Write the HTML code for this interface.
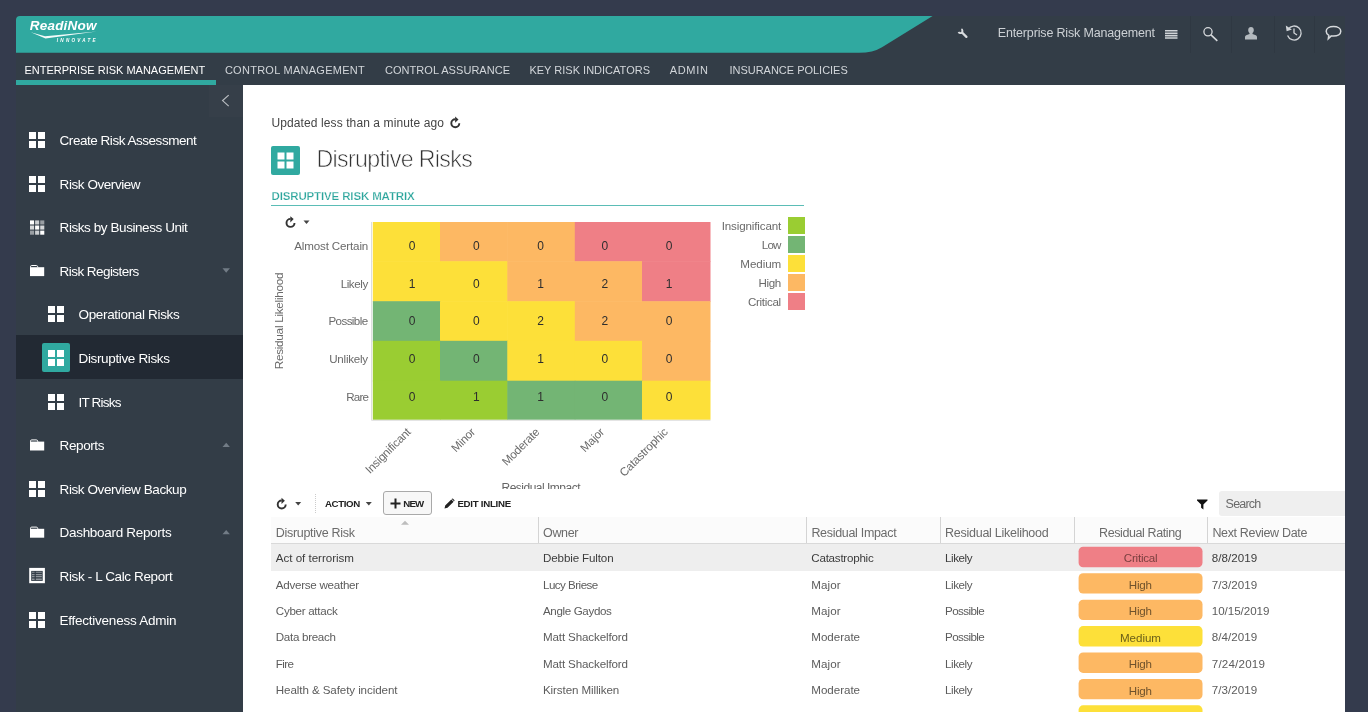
<!DOCTYPE html>
<html lang="en"><head><meta charset="utf-8"><title>Disruptive Risks - ReadiNow</title>
<style>
html,body{margin:0;padding:0}
body{width:1368px;height:712px;overflow:hidden;background:#343b4d;font-family:"Liberation Sans", sans-serif;position:relative}
.abs,.ic,.t{position:absolute}
.t{white-space:nowrap;display:block}
.ic{display:block;overflow:visible}
#app{left:16px;top:16px;width:1329px;height:696px;background:#333d47;border-top-left-radius:4px;overflow:hidden}
#content{left:243px;top:85px;width:1102px;height:627px;background:#fff}
</style></head><body>
<div id="app" class="abs"></div>
<header><svg class="ic" style="left:16px;top:16px" width="920" height="37" viewBox="0 0 920 37"><path fill="#30a9a0" d="M4 0H916.600L866 31.200Q857 36.800 843 36.800H0V4Q0 0 4 0z"/></svg><span class="t" style="top:17.6px;font-size:13.5px;line-height:16px;color:#fff;font-weight:700;letter-spacing:0.23px;left:29.7px;font-style:italic">ReadiNow</span><svg class="ic" style="left:30px;top:31px" width="68" height="8" viewBox="0 0 68 8"><path fill="#fff" opacity=".95" d="M.8 1.200L15 5.300L66.500.6L15.500 7.500z"/></svg><span class="t" style="top:37.5px;font-size:4.6px;line-height:6px;color:#fff;font-weight:700;letter-spacing:2.26px;left:56.8px;font-style:italic">INNOVATE</span><svg class="ic" style="left:957px;top:28px" width="12" height="12" viewBox="0 0 12 12"><path fill="none" stroke="#d9dcdf" stroke-width="1.900" d="M4.400 1.200A2.100 2.100 0 1 1 1.500 4"/><path fill="none" stroke="#d9dcdf" stroke-width="2.300" stroke-linecap="round" d="M5.300 4.800L9.400 8.900"/></svg><span class="t" style="top:26.4px;font-size:12.5px;line-height:15px;color:#cdd1d5;letter-spacing:-0.16px;left:997.8px;">Enterprise Risk Management</span><svg class="ic" style="left:1165px;top:30px" width="13" height="9" viewBox="0 0 13 9"><path fill="#d0d4d8" d="M0 0h12.500v1.600H0zM0 2.400h12.500v1.600H0zM0 4.800h12.500v1.600H0zM0 7.200h12.500v1.600H0z"/></svg><div class="abs" style="left:1190px;top:16px;width:1px;height:37px;background:#2f3842"></div><div class="abs" style="left:1231px;top:16px;width:1px;height:37px;background:#2f3842"></div><div class="abs" style="left:1273.5px;top:16px;width:1px;height:37px;background:#2f3842"></div><div class="abs" style="left:1313.5px;top:16px;width:1px;height:37px;background:#2f3842"></div><svg class="ic" style="left:1200px;top:24px" width="22" height="20" viewBox="0 0 22 20"><circle cx="8" cy="7.800" r="4.100" fill="none" stroke="#d6d9dc" stroke-width="1.300"/><path d="M11 10.800L17.300 16.800" stroke="#d6d9dc" stroke-width="1.600" fill="none"/></svg><svg class="ic" style="left:1245px;top:27px" width="12" height="13" viewBox="0 0 12 13"><path fill="#b3b9be" d="M6 0c1.700 0 2.800 1.300 2.800 3 0 1.200-.5 2.400-1.300 3.100v.9l3.300 1.200c.8.300 1.200.9 1.200 1.700V12.500H0V9.900c0-.8.400-1.400 1.200-1.700l3.300-1.200v-.9C3.700 5.400 3.200 4.200 3.200 3 3.200 1.300 4.300 0 6 0z"/></svg><svg class="ic" style="left:1284px;top:23px" width="20" height="20" viewBox="0 0 20 20"><path fill="none" stroke="#d0d4d8" stroke-width="1.300" d="M4.200 6.300A7 7 0 1 1 3.600 12.500"/><path fill="#d0d4d8" d="M1.800 2.600L2.600 8.200L7.900 6.500z"/><path fill="none" stroke="#d0d4d8" stroke-width="1.300" d="M10 5.500V10l3 2"/></svg><svg class="ic" style="left:1324px;top:24px" width="20" height="18" viewBox="0 0 20 18"><path fill="none" stroke="#d6d9dc" stroke-width="1.500" d="M9.500 2.500c4.200 0 7.300 2 7.300 4.800s-3.100 4.800-7.300 4.800c-.8 0-1.500-.1-2.200-.2L4.300 14.800l.5-3.500C3.200 10.400 2.200 9 2.200 7.300c0-2.800 3.100-4.800 7.300-4.800z"/></svg></header><nav><span class="t" style="top:63.6px;font-size:11px;line-height:13px;color:#fff;letter-spacing:-0.01px;left:24.5px;">ENTERPRISE RISK MANAGEMENT</span><span class="t" style="top:63.6px;font-size:11px;line-height:13px;color:#d2d6da;letter-spacing:0.27px;left:224.9px;">CONTROL MANAGEMENT</span><span class="t" style="top:63.6px;font-size:11px;line-height:13px;color:#d2d6da;letter-spacing:0.05px;left:385px;">CONTROL ASSURANCE</span><span class="t" style="top:63.6px;font-size:11px;line-height:13px;color:#d2d6da;letter-spacing:0.01px;left:529.4px;">KEY RISK INDICATORS</span><span class="t" style="top:63.6px;font-size:11px;line-height:13px;color:#d2d6da;letter-spacing:0.70px;left:669.7px;">ADMIN</span><span class="t" style="top:63.6px;font-size:11px;line-height:13px;color:#d2d6da;letter-spacing:-0.02px;left:729.5px;">INSURANCE POLICIES</span><div class="abs" style="left:16px;top:80px;width:199.500px;height:5px;background:#30a9a0"></div></nav><aside><div class="abs" style="left:208.500px;top:85px;width:34.500px;height:32px;background:#363f49"></div><svg class="ic" style="left:221px;top:94px" width="8" height="14" viewBox="0 0 8 14"><path fill="none" stroke="#b9bdc1" stroke-width="1.200" d="M7.700 1.100L1.600 6.600L7.700 12.100"/></svg><div class="abs" style="left:16px;top:335px;width:227px;height:43.500px;background:#222933"></div><div class="abs" style="left:41.500px;top:343.200px;width:28.500px;height:28.500px;background:#30a9a0;border-radius:2px"></div><svg class="ic" style="left:29px;top:132px" width="16" height="16" viewBox="0 0 16 16"><path fill="#fff" d="M0 0h7.0v7.0h-7.0zM9.0 0h7.0v7.0h-7.0zM0 9.0h7.0v7.0h-7.0zM9.0 9.0h7.0v7.0h-7.0z"/></svg><span class="t" style="top:132.9px;font-size:13.5px;line-height:16px;color:#fff;letter-spacing:-0.47px;left:59.6px;">Create Risk Assessment</span><svg class="ic" style="left:29px;top:176px" width="16" height="16" viewBox="0 0 16 16"><path fill="#fff" d="M0 0h7.0v7.0h-7.0zM9.0 0h7.0v7.0h-7.0zM0 9.0h7.0v7.0h-7.0zM9.0 9.0h7.0v7.0h-7.0z"/></svg><span class="t" style="top:176.5px;font-size:13.5px;line-height:16px;color:#fff;letter-spacing:-0.44px;left:59.6px;">Risk Overview</span><svg class="ic" style="left:30px;top:220px" width="15" height="15" viewBox="0 -0.392 14.685 14.685"><rect x="0" y="0" width="4" height="4" fill="#fff" opacity="1"/><rect x="5" y="0" width="4" height="4" fill="#fff" opacity="0.75"/><rect x="10" y="0" width="4" height="4" fill="#fff" opacity="0.5"/><rect x="0" y="5" width="4" height="4" fill="#fff" opacity="0.8"/><rect x="5" y="5" width="4" height="4" fill="#fff" opacity="1"/><rect x="10" y="5" width="4" height="4" fill="#fff" opacity="0.8"/><rect x="0" y="10" width="4" height="4" fill="#fff" opacity="0.5"/><rect x="5" y="10" width="4" height="4" fill="#fff" opacity="0.75"/><rect x="10" y="10" width="4" height="4" fill="#fff" opacity="1"/></svg><span class="t" style="top:220.1px;font-size:13.5px;line-height:16px;color:#fff;letter-spacing:-0.43px;left:59.6px;">Risks by Business Unit</span><svg class="ic" style="left:30px;top:265px" width="15" height="12" viewBox="0 0 15 12"><path fill="#fff" d="M0 2.200h14.200v8.900H0z"/><path fill="none" stroke="#fff" stroke-width="1" d="M.5 2.500V1.700Q.5.500 1.700.5H6.300Q7.500.5 7.700 1.700L7.900 2.500"/></svg><svg class="ic" style="left:222px;top:268px" width="8" height="5" viewBox="-0.5 -0.3 8 5"><path fill="#727c86" d="M0 0h7.4L3.7 4.4z"/></svg><span class="t" style="top:263.7px;font-size:13.5px;line-height:16px;color:#fff;letter-spacing:-0.56px;left:59.6px;">Risk Registers</span><svg class="ic" style="left:48px;top:306px" width="16" height="16" viewBox="0 0 16 16"><path fill="#fff" d="M0 0h7.0v7.0h-7.0zM9.0 0h7.0v7.0h-7.0zM0 9.0h7.0v7.0h-7.0zM9.0 9.0h7.0v7.0h-7.0z"/></svg><span class="t" style="top:307.3px;font-size:13.5px;line-height:16px;color:#fff;letter-spacing:-0.33px;left:78.5px;">Operational Risks</span><svg class="ic" style="left:48px;top:350px" width="16" height="16" viewBox="0 0 16 16"><path fill="#fff" d="M0 0h7.0v7.0h-7.0zM9.0 0h7.0v7.0h-7.0zM0 9.0h7.0v7.0h-7.0zM9.0 9.0h7.0v7.0h-7.0z"/></svg><span class="t" style="top:350.9px;font-size:13.5px;line-height:16px;color:#fff;letter-spacing:-0.35px;left:78.5px;">Disruptive Risks</span><svg class="ic" style="left:48px;top:394px" width="16" height="16" viewBox="0 0 16 16"><path fill="#fff" d="M0 0h7.0v7.0h-7.0zM9.0 0h7.0v7.0h-7.0zM0 9.0h7.0v7.0h-7.0zM9.0 9.0h7.0v7.0h-7.0z"/></svg><span class="t" style="top:394.5px;font-size:13.5px;line-height:16px;color:#fff;letter-spacing:-0.80px;left:78.5px;">IT Risks</span><svg class="ic" style="left:30px;top:439px" width="15" height="12" viewBox="0 -0.4 15 12"><path fill="#fff" d="M0 2.200h14.200v8.900H0z"/><path fill="none" stroke="#fff" stroke-width="1" d="M.5 2.500V1.700Q.5.500 1.700.5H6.300Q7.500.5 7.700 1.700L7.900 2.500"/></svg><svg class="ic" style="left:222px;top:442px" width="8" height="6" viewBox="-0.5 -0.7 8 6"><path fill="#727c86" d="M0 4.4L3.7 0L7.4 4.4z"/></svg><span class="t" style="top:438.1px;font-size:13.5px;line-height:16px;color:#fff;letter-spacing:-0.40px;left:59.6px;">Reports</span><svg class="ic" style="left:29px;top:481px" width="16" height="16" viewBox="0 0 16 16"><path fill="#fff" d="M0 0h7.0v7.0h-7.0zM9.0 0h7.0v7.0h-7.0zM0 9.0h7.0v7.0h-7.0zM9.0 9.0h7.0v7.0h-7.0z"/></svg><span class="t" style="top:481.7px;font-size:13.5px;line-height:16px;color:#fff;letter-spacing:-0.42px;left:59.6px;">Risk Overview Backup</span><svg class="ic" style="left:30px;top:526px" width="15" height="12" viewBox="0 -0.6 15 12"><path fill="#fff" d="M0 2.200h14.200v8.900H0z"/><path fill="none" stroke="#fff" stroke-width="1" d="M.5 2.500V1.700Q.5.500 1.700.5H6.300Q7.500.5 7.700 1.700L7.900 2.500"/></svg><svg class="ic" style="left:222px;top:529px" width="8" height="6" viewBox="-0.5 -0.9 8 6"><path fill="#727c86" d="M0 4.4L3.7 0L7.4 4.4z"/></svg><span class="t" style="top:525.3px;font-size:13.5px;line-height:16px;color:#fff;letter-spacing:-0.31px;left:59.6px;">Dashboard Reports</span><svg class="ic" style="left:29px;top:567px" width="16" height="17" viewBox="-0.2 -0.9 16 17"><path fill="#fff" d="M0 0h15.700v15.300H0z"/><path fill="#333d47" d="M2 3h11.500v10H2z"/><path fill="#fff" opacity=".45" d="M2.800 3.9h2.600v1h-2.600zM6.600 3.9h6v1h-6z"/><path fill="#fff" opacity=".45" d="M2.800 6h2.600v1.4h-2.600zM6.600 6h6v1.4h-6z"/><path fill="#fff" opacity=".45" d="M2.800 8h2.600v1.4h-2.600zM6.600 8h6v1.4h-6z"/><path fill="#fff" opacity=".45" d="M2.800 10.6h2.600v1.4h-2.600zM6.600 10.6h6v1.4h-6z"/></svg><span class="t" style="top:568.9px;font-size:13.5px;line-height:16px;color:#fff;letter-spacing:-0.38px;left:59.6px;">Risk - L Calc Report</span><svg class="ic" style="left:29px;top:612px" width="16" height="16" viewBox="0 0 16 16"><path fill="#fff" d="M0 0h7.0v7.0h-7.0zM9.0 0h7.0v7.0h-7.0zM0 9.0h7.0v7.0h-7.0zM9.0 9.0h7.0v7.0h-7.0z"/></svg><span class="t" style="top:612.5px;font-size:13.5px;line-height:16px;color:#fff;letter-spacing:-0.25px;left:59.6px;">Effectiveness Admin</span></aside><main><div id="content" class="abs"></div><span class="t" style="top:116.3px;font-size:12px;line-height:14px;color:#444;letter-spacing:0.10px;left:271.5px;">Updated less than a minute ago</span><svg class="ic" style="left:450px;top:116px" width="11" height="13" viewBox="0 -0.2 11 13"><path fill="none" stroke="#333" stroke-width="1.900" d="M5.300 3.100A4 4 0 1 0 9.300 7.100"/><path fill="#333" d="M5.100 .4L8.500 3.300L5.100 6.600z"/></svg><div class="abs" style="left:271px;top:146px;width:29px;height:29px;background:#30a9a0;border-radius:2px"></div><svg class="ic" style="left:277px;top:152px" width="17" height="17" viewBox="-0.5 -0.5 17 17"><path fill="#fff" d="M0 0h7.0v7.0h-7.0zM9.0 0h7.0v7.0h-7.0zM0 9.0h7.0v7.0h-7.0zM9.0 9.0h7.0v7.0h-7.0z"/></svg><h1 class="t" style="top:144.7px;font-size:23.2px;line-height:28px;color:#333;font-weight:400;margin:0;letter-spacing:-0.66px;left:316.5px;-webkit-text-stroke:0.65px #fff;">Disruptive Risks</h1><h2 class="t" style="top:188.9px;font-size:11.5px;line-height:14px;color:#2ba59c;font-weight:700;margin:0;letter-spacing:-0.14px;left:271.5px;-webkit-text-stroke:0.25px #fff;">DISRUPTIVE RISK MATRIX</h2><div class="abs" style="left:271px;top:204.500px;width:533px;height:1px;background:#5bbdb6"></div><svg class="ic" style="left:285px;top:215px" width="12" height="13" viewBox="-0.2 -0.8 12 13"><path fill="none" stroke="#333" stroke-width="1.900" d="M5.300 3.100A4 4 0 1 0 9.300 7.100"/><path fill="#333" d="M5.100 .4L8.500 3.300L5.100 6.600z"/></svg><svg class="ic" style="left:303px;top:220px" width="7" height="4" viewBox="-0.5 -0.5 7 4"><path fill="#444" d="M0 0h6L3.0 3.5z"/></svg><svg class="ic" style="left:368px;top:220px" width="346" height="204" viewBox="368 220 346 204"><rect x="372.8" y="222" width="67.8" height="39.8" fill="#fde039"/><rect x="440" y="222" width="67.9" height="39.8" fill="#fdb863"/><rect x="507.3" y="222" width="68.1" height="39.8" fill="#fdb863"/><rect x="574.8" y="222" width="67.8" height="39.8" fill="#ef7f86"/><rect x="642" y="222" width="68.5" height="39.8" fill="#ef7f86"/><rect x="372.8" y="261.2" width="67.8" height="40.6" fill="#fde039"/><rect x="440" y="261.2" width="67.9" height="40.6" fill="#fde039"/><rect x="507.3" y="261.2" width="68.1" height="40.6" fill="#fdb863"/><rect x="574.8" y="261.2" width="67.8" height="40.6" fill="#fdb863"/><rect x="642" y="261.2" width="68.5" height="40.6" fill="#ef7f86"/><rect x="372.8" y="301.2" width="67.8" height="40.2" fill="#73b574"/><rect x="440" y="301.2" width="67.9" height="40.2" fill="#fde039"/><rect x="507.3" y="301.2" width="68.1" height="40.2" fill="#fde039"/><rect x="574.8" y="301.2" width="67.8" height="40.2" fill="#fdb863"/><rect x="642" y="301.2" width="68.5" height="40.2" fill="#fdb863"/><rect x="372.8" y="340.8" width="67.8" height="40.5" fill="#9acd32"/><rect x="440" y="340.8" width="67.9" height="40.5" fill="#73b574"/><rect x="507.3" y="340.8" width="68.1" height="40.5" fill="#fde039"/><rect x="574.8" y="340.8" width="67.8" height="40.5" fill="#fde039"/><rect x="642" y="340.8" width="68.5" height="40.5" fill="#fdb863"/><rect x="372.8" y="380.7" width="67.8" height="39.1" fill="#9acd32"/><rect x="440" y="380.7" width="67.9" height="39.1" fill="#9acd32"/><rect x="507.3" y="380.7" width="68.1" height="39.1" fill="#73b574"/><rect x="574.8" y="380.7" width="67.8" height="39.1" fill="#73b574"/><rect x="642" y="380.7" width="68.5" height="39.1" fill="#fde039"/><path d="M371.500 222V420.300H710.500" fill="none" stroke="#dedede" stroke-width="1"/></svg><span class="t" style="top:238.7px;font-size:11.6px;line-height:14px;color:#6a6a6a;letter-spacing:-0.16px;left:294.3px;">Almost Certain</span><span class="t" style="top:238.7px;font-size:12px;line-height:14px;color:#2e2e2e;left:362.0px;width:100px;text-align:center;">0</span><span class="t" style="top:238.7px;font-size:12px;line-height:14px;color:#2e2e2e;left:426.25px;width:100px;text-align:center;">0</span><span class="t" style="top:238.7px;font-size:12px;line-height:14px;color:#2e2e2e;left:490.5px;width:100px;text-align:center;">0</span><span class="t" style="top:238.7px;font-size:12px;line-height:14px;color:#2e2e2e;left:554.75px;width:100px;text-align:center;">0</span><span class="t" style="top:238.7px;font-size:12px;line-height:14px;color:#2e2e2e;left:619.0px;width:100px;text-align:center;">0</span><span class="t" style="top:276.5px;font-size:11.6px;line-height:14px;color:#6a6a6a;letter-spacing:-0.43px;left:340.7px;">Likely</span><span class="t" style="top:276.5px;font-size:12px;line-height:14px;color:#2e2e2e;left:362.0px;width:100px;text-align:center;">1</span><span class="t" style="top:276.5px;font-size:12px;line-height:14px;color:#2e2e2e;left:426.25px;width:100px;text-align:center;">0</span><span class="t" style="top:276.5px;font-size:12px;line-height:14px;color:#2e2e2e;left:490.5px;width:100px;text-align:center;">1</span><span class="t" style="top:276.5px;font-size:12px;line-height:14px;color:#2e2e2e;left:554.75px;width:100px;text-align:center;">2</span><span class="t" style="top:276.5px;font-size:12px;line-height:14px;color:#2e2e2e;left:619.0px;width:100px;text-align:center;">1</span><span class="t" style="top:314.2px;font-size:11.6px;line-height:14px;color:#6a6a6a;letter-spacing:-0.58px;left:328.4px;">Possible</span><span class="t" style="top:314.2px;font-size:12px;line-height:14px;color:#2e2e2e;left:362.0px;width:100px;text-align:center;">0</span><span class="t" style="top:314.2px;font-size:12px;line-height:14px;color:#2e2e2e;left:426.25px;width:100px;text-align:center;">0</span><span class="t" style="top:314.2px;font-size:12px;line-height:14px;color:#2e2e2e;left:490.5px;width:100px;text-align:center;">2</span><span class="t" style="top:314.2px;font-size:12px;line-height:14px;color:#2e2e2e;left:554.75px;width:100px;text-align:center;">2</span><span class="t" style="top:314.2px;font-size:12px;line-height:14px;color:#2e2e2e;left:619.0px;width:100px;text-align:center;">0</span><span class="t" style="top:352.0px;font-size:11.6px;line-height:14px;color:#6a6a6a;letter-spacing:-0.23px;left:329.2px;">Unlikely</span><span class="t" style="top:352.0px;font-size:12px;line-height:14px;color:#2e2e2e;left:362.0px;width:100px;text-align:center;">0</span><span class="t" style="top:352.0px;font-size:12px;line-height:14px;color:#2e2e2e;left:426.25px;width:100px;text-align:center;">0</span><span class="t" style="top:352.0px;font-size:12px;line-height:14px;color:#2e2e2e;left:490.5px;width:100px;text-align:center;">1</span><span class="t" style="top:352.0px;font-size:12px;line-height:14px;color:#2e2e2e;left:554.75px;width:100px;text-align:center;">0</span><span class="t" style="top:352.0px;font-size:12px;line-height:14px;color:#2e2e2e;left:619.0px;width:100px;text-align:center;">0</span><span class="t" style="top:389.7px;font-size:11.6px;line-height:14px;color:#6a6a6a;letter-spacing:-0.80px;left:346.2px;">Rare</span><span class="t" style="top:389.7px;font-size:12px;line-height:14px;color:#2e2e2e;left:362.0px;width:100px;text-align:center;">0</span><span class="t" style="top:389.7px;font-size:12px;line-height:14px;color:#2e2e2e;left:426.25px;width:100px;text-align:center;">1</span><span class="t" style="top:389.7px;font-size:12px;line-height:14px;color:#2e2e2e;left:490.5px;width:100px;text-align:center;">1</span><span class="t" style="top:389.7px;font-size:12px;line-height:14px;color:#2e2e2e;left:554.75px;width:100px;text-align:center;">0</span><span class="t" style="top:389.7px;font-size:12px;line-height:14px;color:#2e2e2e;left:619.0px;width:100px;text-align:center;">0</span><div class="abs" style="left:278.500px;top:321px;width:0;height:0"><div class="t" style="transform:translate(-50%,-50%) rotate(-90deg);font-size:11.800px;color:#6a6a6a;line-height:14px;letter-spacing:-0.3px">Residual Likelihood</div></div><div class="abs" style="left:408.4px;top:430.2px;width:0;height:0"><div class="t" style="right:0;top:-7px;transform-origin:100% 50%;transform:rotate(-45deg);font-size:11.6px;color:#6a6a6a;line-height:14px;letter-spacing:-0.2px">Insignificant</div></div><div class="abs" style="left:472.79999999999995px;top:430.2px;width:0;height:0"><div class="t" style="right:0;top:-7px;transform-origin:100% 50%;transform:rotate(-45deg);font-size:11.6px;color:#6a6a6a;line-height:14px;letter-spacing:-0.2px">Minor</div></div><div class="abs" style="left:537.2px;top:430.2px;width:0;height:0"><div class="t" style="right:0;top:-7px;transform-origin:100% 50%;transform:rotate(-45deg);font-size:11.6px;color:#6a6a6a;line-height:14px;letter-spacing:-0.2px">Moderate</div></div><div class="abs" style="left:601.6px;top:430.2px;width:0;height:0"><div class="t" style="right:0;top:-7px;transform-origin:100% 50%;transform:rotate(-45deg);font-size:11.6px;color:#6a6a6a;line-height:14px;letter-spacing:-0.2px">Major</div></div><div class="abs" style="left:666.0px;top:430.2px;width:0;height:0"><div class="t" style="right:0;top:-7px;transform-origin:100% 50%;transform:rotate(-45deg);font-size:11.6px;color:#6a6a6a;line-height:14px;letter-spacing:-0.2px">Catastrophic</div></div><div class="abs" style="left:480px;top:470px;width:130px;height:19px;overflow:hidden"><div class="t" style="left:21.500px;top:11px;font-size:12px;line-height:14px;color:#666;letter-spacing:-0.5px">Residual Impact</div></div><div class="abs" style="left:787.500px;top:217px;width:17px;height:17px;background:#9acd32"></div><span class="t" style="top:218.9px;font-size:11.6px;line-height:14px;color:#6a6a6a;letter-spacing:-0.14px;left:721.7px;">Insignificant</span><div class="abs" style="left:787.500px;top:236px;width:17px;height:17px;background:#73b574"></div><span class="t" style="top:237.9px;font-size:11.6px;line-height:14px;color:#6a6a6a;letter-spacing:-0.80px;left:761.8px;">Low</span><div class="abs" style="left:787.500px;top:255px;width:17px;height:17px;background:#fde039"></div><span class="t" style="top:256.9px;font-size:11.6px;line-height:14px;color:#6a6a6a;letter-spacing:-0.07px;left:740.3px;">Medium</span><div class="abs" style="left:787.500px;top:274px;width:17px;height:17px;background:#fdb863"></div><span class="t" style="top:275.9px;font-size:11.6px;line-height:14px;color:#6a6a6a;letter-spacing:-0.39px;left:758.5px;">High</span><div class="abs" style="left:787.500px;top:293px;width:17px;height:17px;background:#ef7f86"></div><span class="t" style="top:294.9px;font-size:11.6px;line-height:14px;color:#6a6a6a;letter-spacing:-0.31px;left:747.9px;">Critical</span><svg class="ic" style="left:276px;top:497px" width="12" height="13" viewBox="-0.4 -0.4 12 13"><path fill="none" stroke="#333" stroke-width="1.900" d="M5.300 3.100A4 4 0 1 0 9.300 7.100"/><path fill="#333" d="M5.100 .4L8.500 3.300L5.100 6.600z"/></svg><svg class="ic" style="left:295px;top:502px" width="7" height="4" viewBox="-0.2 0 7 4"><path fill="#444" d="M0 0h6L3.0 3.5z"/></svg><div class="abs" style="left:314.500px;top:494px;width:0;height:19px;border-left:1px dotted #ccc"></div><span class="t" style="top:497.7px;font-size:9.7px;line-height:12px;color:#222;font-weight:700;letter-spacing:-0.39px;left:325px;">ACTION</span><svg class="ic" style="left:365px;top:502px" width="7" height="4" viewBox="-0.8 0 7 4"><path fill="#444" d="M0 0h6L3.0 3.5z"/></svg><div class="abs" style="left:383px;top:491px;width:46.500px;height:21.500px;border:1px solid #a9a9a9;border-radius:3px;background:#f7f7f7"></div><svg class="ic" style="left:390px;top:498px" width="11" height="11" viewBox="-0.5 -0.5 11 11"><path fill="#222" d="M4 0h2v4h4v2H6v4H4V6H0V4h4z"/></svg><span class="t" style="top:497.7px;font-size:9.7px;line-height:12px;color:#222;font-weight:700;letter-spacing:-0.80px;left:403.2px;">NEW</span><svg class="ic" style="left:444px;top:498px" width="11" height="11" viewBox="-0.5 -0.5 11 11"><path fill="#222" d="M0 10l.7-3L6.800.9l2.300 2.300L3 9.300zM7.500.2a.7.700 0 0 1 1 0l1.300 1.300a.7.700 0 0 1 0 1l-.3.300L7.200.5z"/></svg><span class="t" style="top:497.7px;font-size:9.7px;line-height:12px;color:#222;font-weight:700;letter-spacing:-0.27px;left:457.4px;">EDIT INLINE</span><svg class="ic" style="left:1197px;top:499px" width="11" height="11" viewBox="0 -0.5 11 11"><path fill="#111" d="M0 0h10.500v1L6.400 5v5L4.100 8.300V5L0 1z"/></svg><div class="abs" style="left:1219px;top:491px;width:130px;height:24.500px;background:#efefef;border-radius:3px"></div><span class="t" style="top:496.9px;font-size:12.5px;line-height:15px;color:#6a6a6a;letter-spacing:-0.80px;left:1225.6px;">Search</span><div class="abs" style="left:271px;top:517px;width:1074px;height:26px;background:#fbfbfb"></div><div class="abs" style="left:271px;top:542.500px;width:1074px;height:1px;background:#d9d9d9"></div><div class="abs" style="left:538px;top:517px;width:1px;height:26px;background:#d4d4d4"></div><div class="abs" style="left:806px;top:517px;width:1px;height:26px;background:#d4d4d4"></div><div class="abs" style="left:939.5px;top:517px;width:1px;height:26px;background:#d4d4d4"></div><div class="abs" style="left:1073.5px;top:517px;width:1px;height:26px;background:#d4d4d4"></div><div class="abs" style="left:1206.5px;top:517px;width:1px;height:26px;background:#d4d4d4"></div><svg class="ic" style="left:401px;top:520px" width="8" height="5" viewBox="0 -0.8 8 5"><path fill="#bdbdbd" d="M0 4L4 0L8 4z"/></svg><span class="t" style="top:526.2px;font-size:12.5px;line-height:15px;color:#6b6b6b;letter-spacing:-0.30px;left:275.8px;">Disruptive Risk</span><span class="t" style="top:526.2px;font-size:12.5px;line-height:15px;color:#6b6b6b;letter-spacing:-0.33px;left:543px;">Owner</span><span class="t" style="top:526.2px;font-size:12.5px;line-height:15px;color:#6b6b6b;letter-spacing:-0.31px;left:811.4px;">Residual Impact</span><span class="t" style="top:526.2px;font-size:12.5px;line-height:15px;color:#6b6b6b;letter-spacing:-0.27px;left:945.1px;">Residual Likelihood</span><span class="t" style="top:526.2px;font-size:12.5px;line-height:15px;color:#6b6b6b;letter-spacing:-0.40px;left:1099px;">Residual Rating</span><span class="t" style="top:526.2px;font-size:12.5px;line-height:15px;color:#6b6b6b;letter-spacing:-0.34px;left:1212.4px;">Next Review Date</span><div class="abs" style="left:271px;top:543.500px;width:1074px;height:27px;background:#eeeeee"></div><span class="t" style="top:551.0px;font-size:11.6px;line-height:14px;color:#3c3c3c;letter-spacing:-0.03px;left:275.8px;">Act of terrorism</span><span class="t" style="top:551.0px;font-size:11.6px;line-height:14px;color:#3c3c3c;letter-spacing:-0.13px;left:543px;">Debbie Fulton</span><span class="t" style="top:551.0px;font-size:11.6px;line-height:14px;color:#3c3c3c;letter-spacing:-0.24px;left:811.3px;">Catastrophic</span><span class="t" style="top:551.0px;font-size:11.6px;line-height:14px;color:#3c3c3c;letter-spacing:-0.43px;left:945px;">Likely</span><svg class="ic" style="left:1078px;top:545px" width="125" height="23" viewBox="0 0 125 23"><rect x=".6" y="1.80" width="123.900" height="20.400" rx="4.500" fill="#ef7f86"/></svg><span class="t" style="top:551.4px;font-size:11.6px;line-height:14px;color:#7a3f3f;letter-spacing:-0.23px;left:1123.8px;">Critical</span><span class="t" style="top:551.0px;font-size:11.6px;line-height:14px;color:#3c3c3c;letter-spacing:0.05px;left:1211.8px;">8/8/2019</span><span class="t" style="top:577.5px;font-size:11.6px;line-height:14px;color:#5c5c5c;letter-spacing:-0.26px;left:275.8px;">Adverse weather</span><span class="t" style="top:577.5px;font-size:11.6px;line-height:14px;color:#5c5c5c;letter-spacing:-0.53px;left:543px;">Lucy Briese</span><span class="t" style="top:577.5px;font-size:11.6px;line-height:14px;color:#5c5c5c;letter-spacing:0.10px;left:811.3px;">Major</span><span class="t" style="top:577.5px;font-size:11.6px;line-height:14px;color:#5c5c5c;letter-spacing:-0.43px;left:945px;">Likely</span><svg class="ic" style="left:1078px;top:572px" width="125" height="23" viewBox="0 0 125 23"><rect x=".6" y="1.22" width="123.900" height="20.400" rx="4.500" fill="#fdb863"/></svg><span class="t" style="top:577.9px;font-size:11.6px;line-height:14px;color:#6f522c;letter-spacing:-0.22px;left:1128.8px;">High</span><span class="t" style="top:577.5px;font-size:11.6px;line-height:14px;color:#5c5c5c;letter-spacing:0.05px;left:1211.8px;">7/3/2019</span><span class="t" style="top:603.9px;font-size:11.6px;line-height:14px;color:#5c5c5c;letter-spacing:-0.29px;left:275.8px;">Cyber attack</span><span class="t" style="top:603.9px;font-size:11.6px;line-height:14px;color:#5c5c5c;letter-spacing:-0.36px;left:543px;">Angle Gaydos</span><span class="t" style="top:603.9px;font-size:11.6px;line-height:14px;color:#5c5c5c;letter-spacing:0.10px;left:811.3px;">Major</span><span class="t" style="top:603.9px;font-size:11.6px;line-height:14px;color:#5c5c5c;letter-spacing:-0.58px;left:945px;">Possible</span><svg class="ic" style="left:1078px;top:598px" width="125" height="23" viewBox="0 0 125 23"><rect x=".6" y="1.64" width="123.900" height="20.400" rx="4.500" fill="#fdb863"/></svg><span class="t" style="top:604.3px;font-size:11.6px;line-height:14px;color:#6f522c;letter-spacing:-0.22px;left:1128.8px;">High</span><span class="t" style="top:603.9px;font-size:11.6px;line-height:14px;color:#5c5c5c;letter-spacing:-0.04px;left:1211.8px;">10/15/2019</span><span class="t" style="top:630.3px;font-size:11.6px;line-height:14px;color:#5c5c5c;letter-spacing:-0.30px;left:275.8px;">Data breach</span><span class="t" style="top:630.3px;font-size:11.6px;line-height:14px;color:#5c5c5c;letter-spacing:-0.13px;left:543px;">Matt Shackelford</span><span class="t" style="top:630.3px;font-size:11.6px;line-height:14px;color:#5c5c5c;letter-spacing:-0.03px;left:811.3px;">Moderate</span><span class="t" style="top:630.3px;font-size:11.6px;line-height:14px;color:#5c5c5c;letter-spacing:-0.58px;left:945px;">Possible</span><svg class="ic" style="left:1078px;top:625px" width="125" height="23" viewBox="0 0 125 23"><rect x=".6" y="1.06" width="123.900" height="20.400" rx="4.500" fill="#fde039"/></svg><span class="t" style="top:630.7px;font-size:11.6px;line-height:14px;color:#6b5f18;letter-spacing:-0.05px;left:1120px;">Medium</span><span class="t" style="top:630.3px;font-size:11.6px;line-height:14px;color:#5c5c5c;letter-spacing:0.05px;left:1211.8px;">8/4/2019</span><span class="t" style="top:656.7px;font-size:11.6px;line-height:14px;color:#5c5c5c;letter-spacing:-0.62px;left:275.8px;">Fire</span><span class="t" style="top:656.7px;font-size:11.6px;line-height:14px;color:#5c5c5c;letter-spacing:-0.13px;left:543px;">Matt Shackelford</span><span class="t" style="top:656.7px;font-size:11.6px;line-height:14px;color:#5c5c5c;letter-spacing:0.10px;left:811.3px;">Major</span><span class="t" style="top:656.7px;font-size:11.6px;line-height:14px;color:#5c5c5c;letter-spacing:-0.43px;left:945px;">Likely</span><svg class="ic" style="left:1078px;top:651px" width="125" height="23" viewBox="0 0 125 23"><rect x=".6" y="1.48" width="123.900" height="20.400" rx="4.500" fill="#fdb863"/></svg><span class="t" style="top:657.1px;font-size:11.6px;line-height:14px;color:#6f522c;letter-spacing:-0.22px;left:1128.8px;">High</span><span class="t" style="top:656.7px;font-size:11.6px;line-height:14px;color:#5c5c5c;letter-spacing:0.19px;left:1211.8px;">7/24/2019</span><span class="t" style="top:683.1px;font-size:11.6px;line-height:14px;color:#5c5c5c;letter-spacing:-0.09px;left:275.8px;">Health &amp; Safety incident</span><span class="t" style="top:683.1px;font-size:11.6px;line-height:14px;color:#5c5c5c;letter-spacing:-0.11px;left:543px;">Kirsten Milliken</span><span class="t" style="top:683.1px;font-size:11.6px;line-height:14px;color:#5c5c5c;letter-spacing:-0.03px;left:811.3px;">Moderate</span><span class="t" style="top:683.1px;font-size:11.6px;line-height:14px;color:#5c5c5c;letter-spacing:-0.43px;left:945px;">Likely</span><svg class="ic" style="left:1078px;top:678px" width="125" height="23" viewBox="0 0 125 23"><rect x=".6" y="0.90" width="123.900" height="20.400" rx="4.500" fill="#fdb863"/></svg><span class="t" style="top:683.5px;font-size:11.6px;line-height:14px;color:#6f522c;letter-spacing:-0.22px;left:1128.8px;">High</span><span class="t" style="top:683.1px;font-size:11.6px;line-height:14px;color:#5c5c5c;letter-spacing:0.05px;left:1211.8px;">7/3/2019</span><svg class="ic" style="left:1078px;top:704px" width="125" height="23" viewBox="0 0 125 23"><rect x=".6" y="1.32" width="123.900" height="20.400" rx="4.500" fill="#fde039"/></svg></main><div class="abs" style="left:1345px;top:0;width:23px;height:712px;background:#343b4d"></div></body></html>
